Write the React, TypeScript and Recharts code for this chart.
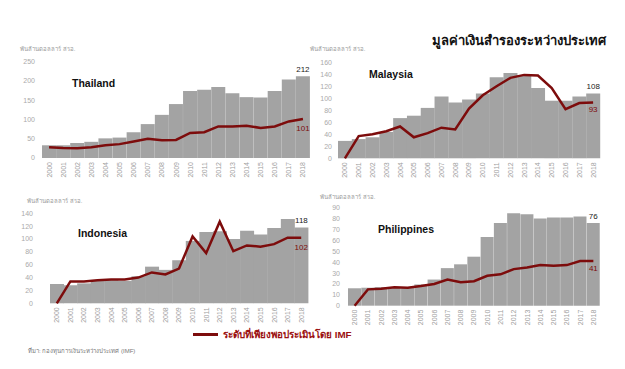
import React from 'react';
import { ComposedChart, Bar, Line, XAxis, YAxis, LabelList } from 'recharts';

const YEARS = ['2000', '2001', '2002', '2003', '2004', '2005', '2006', '2007', '2008', '2009',
  '2010', '2011', '2012', '2013', '2014', '2015', '2016', '2017', '2018'];

// reserves (bars) and IMF adequacy level (line), billion USD
const THAILAND_RESERVES = [33, 33, 39, 42, 51, 53, 67, 88, 112, 140, 174, 177, 184, 168, 158, 157, 174, 204, 212];
const THAILAND_IMF = [28, 26, 25, 28, 33, 36, 43, 50, 46, 47, 65, 67, 82, 82, 84, 78, 82, 95, 101];
const THAILAND_TICKS = [0, 50, 100, 150, 200, 250];

const MALAYSIA_RESERVES = [29, 32, 35, 44, 67, 71, 84, 103, 93, 98, 108, 135, 142, 138, 117, 96, 96, 103, 108];
const MALAYSIA_IMF = [0, 37, 40, 45, 53, 35, 42, 51, 48, 83, 105, 120, 134, 139, 138, 117, 82, 92, 93];
const MALAYSIA_TICKS = [0, 20, 40, 60, 80, 100, 120, 140, 160];

const INDONESIA_RESERVES = [30, 28, 31, 35, 36, 35, 42, 57, 52, 67, 97, 111, 112, 100, 113, 107, 117, 131, 118];
const INDONESIA_IMF = [0, 34, 34, 36, 37, 37, 40, 48, 45, 54, 104, 78, 127, 81, 90, 88, 92, 102, 102];
const INDONESIA_TICKS = [0, 20, 40, 60, 80, 100, 120, 140];

const PHILIPPINES_RESERVES = [16, 16.5, 17, 17, 17, 19.5, 24, 34.5, 38, 45, 63, 76, 85, 84, 80, 81, 81, 82, 76];
const PHILIPPINES_IMF = [0, 15, 15.5, 17, 16.5, 18, 20, 24, 21.5, 22.5, 27.5, 28.8, 33.6, 35, 37.3, 36.7, 37.3, 41, 41];
const PHILIPPINES_TICKS = [0, 10, 20, 30, 40, 50, 60, 70, 80, 90];

const BAR_COLOR = '#a3a3a3';
const LINE_COLOR = '#7d0c0c';
const FONT = '"Liberation Sans", Arial, sans-serif';
const LAST = YEARS.length - 1;

const YearTick = (props: any) => {
  const { x, y, payload } = props;
  return (
    <text
      x={x}
      y={y}
      transform={`rotate(-90 ${x} ${y})`}
      textAnchor="end"
      dx={-4}
      dy={2.5}
      fontSize={7}
      fill="#a0a0a0"
      fontFamily={FONT}
    >
      {payload.value}
    </text>
  );
};

interface PanelProps {
  name: string;
  reserves: number[];
  imf: number[];
  ticks: number[];
  left: number;
  top: number;
  plotLeft: number;
  plotRight: number;
  plotTop: number;
  plotBottom: number;
  tickGap: number;
  nameX: number;
  nameY: number;
  barLabelDy: number;
  lineLabelDy: number;
}

const Panel: React.FC<PanelProps> = (p) => {
  const data = YEARS.map((year, i) => ({ year, reserves: p.reserves[i], imf: p.imf[i] }));
  const xAxisHeight = 24;
  const width = p.plotRight - p.left + 2;
  const height = p.plotBottom - p.top + xAxisHeight;

  const barLabel = (props: any) => {
    if (props.index !== LAST) return null;
    return (
      <text x={props.x + props.width / 2} y={props.y + p.barLabelDy} textAnchor="middle"
        fontSize={8} fill="#222" fontFamily={FONT}>
        {props.value}
      </text>
    );
  };

  const lineLabel = (props: any) => {
    if (props.index !== LAST) return null;
    return (
      <text x={props.x} y={props.y + p.lineLabelDy} textAnchor="middle"
        fontSize={8} fill={LINE_COLOR} fontFamily={FONT}>
        {props.value}
      </text>
    );
  };

  return (
    <div style={{ position: 'absolute', left: p.left, top: p.top }}>
      <ComposedChart
        width={width}
        height={height}
        data={data}
        barCategoryGap={0}
        margin={{ top: p.plotTop - p.top, right: 2, left: 0, bottom: 0 }}
      >
        <XAxis
          dataKey="year"
          interval={0}
          axisLine={false}
          tickLine={false}
          tickSize={0}
          tickMargin={0}
          height={xAxisHeight}
          tick={<YearTick />}
        />
        <YAxis
          domain={[p.ticks[0], p.ticks[p.ticks.length - 1]]}
          ticks={p.ticks}
          interval={0}
          axisLine={false}
          tickLine={false}
          tickSize={0}
          tickMargin={p.tickGap}
          width={p.plotLeft - p.left}
          tick={{ fontSize: 7, fill: '#aaaaaa', fontFamily: FONT }}
        />
        <Bar dataKey="reserves" fill={BAR_COLOR} isAnimationActive={false}>
          <LabelList dataKey="reserves" content={barLabel} />
        </Bar>
        <Line dataKey="imf" type="linear" stroke={LINE_COLOR} strokeWidth={2.5} dot={false}
          isAnimationActive={false}>
          <LabelList dataKey="imf" content={lineLabel} />
        </Line>
      </ComposedChart>
      <div style={{
        position: 'absolute', left: p.nameX - p.left, top: p.nameY - p.top,
        fontFamily: FONT, fontWeight: 'bold', fontSize: 10.5, color: '#111', whiteSpace: 'nowrap',
      }}>
        {p.name}
      </div>
    </div>
  );
};

const unitStyle = (left: number, top: number): React.CSSProperties => ({
  position: 'absolute', left, top, fontSize: 6, color: '#9a9a9a', fontFamily: FONT, whiteSpace: 'nowrap',
});

export default function App() {
  return (
    <div style={{ position: 'absolute', left: 0, top: 0, width: 625, height: 369, background: '#fff', overflow: 'hidden' }}>
      <div style={{
        position: 'absolute', left: 432, top: 30, fontFamily: FONT, fontWeight: 'bold', fontSize: 13,
        color: '#111', whiteSpace: 'nowrap',
      }}>
        มูลค่าเงินสำรองระหว่างประเทศ
      </div>

      <div style={unitStyle(20, 44)}>พันล้านดอลลาร์ สรอ.</div>
      <div style={unitStyle(310, 44)}>พันล้านดอลลาร์ สรอ.</div>
      <div style={unitStyle(27, 196)}>พันล้านดอลลาร์ สรอ.</div>
      <div style={unitStyle(320, 192)}>พันล้านดอลลาร์ สรอ.</div>

      <Panel name="Thailand" reserves={THAILAND_RESERVES} imf={THAILAND_IMF} ticks={THAILAND_TICKS}
        left={0} top={50} plotLeft={42} plotRight={310} plotTop={61.7} plotBottom={158}
        tickGap={7} nameX={72} nameY={77} barLabelDy={-4} lineLabelDy={12} />
      <Panel name="Malaysia" reserves={MALAYSIA_RESERVES} imf={MALAYSIA_IMF} ticks={MALAYSIA_TICKS}
        left={310} top={50} plotLeft={338} plotRight={600} plotTop={62.3} plotBottom={158.3}
        tickGap={6} nameX={369} nameY={68} barLabelDy={-4} lineLabelDy={10} />
      <Panel name="Indonesia" reserves={INDONESIA_RESERVES} imf={INDONESIA_IMF} ticks={INDONESIA_TICKS}
        left={0} top={200} plotLeft={50} plotRight={308} plotTop={213.3} plotBottom={303.3}
        tickGap={17} nameX={78} nameY={227} barLabelDy={-4} lineLabelDy={12} />
      <Panel name="Philippines" reserves={PHILIPPINES_RESERVES} imf={PHILIPPINES_IMF} ticks={PHILIPPINES_TICKS}
        left={310} top={195} plotLeft={348} plotRight={600} plotTop={207.7} plotBottom={305.7}
        tickGap={8} nameX={378} nameY={223} barLabelDy={-4} lineLabelDy={10} />

      <div style={{ position: 'absolute', left: 193, top: 333, width: 25, height: 2.5, background: LINE_COLOR }} />
      <div style={{
        position: 'absolute', left: 223, top: 327, fontFamily: FONT, fontWeight: 'bold', fontSize: 9.8,
        color: '#9b1010', whiteSpace: 'nowrap',
      }}>
        ระดับที่เพียงพอประเมินโดย IMF
      </div>
      <div style={{
        position: 'absolute', left: 28, top: 346, fontFamily: FONT, fontSize: 6, color: '#777',
        whiteSpace: 'nowrap',
      }}>
        ที่มา: กองทุนการเงินระหว่างประเทศ (IMF)
      </div>
    </div>
  );
}
